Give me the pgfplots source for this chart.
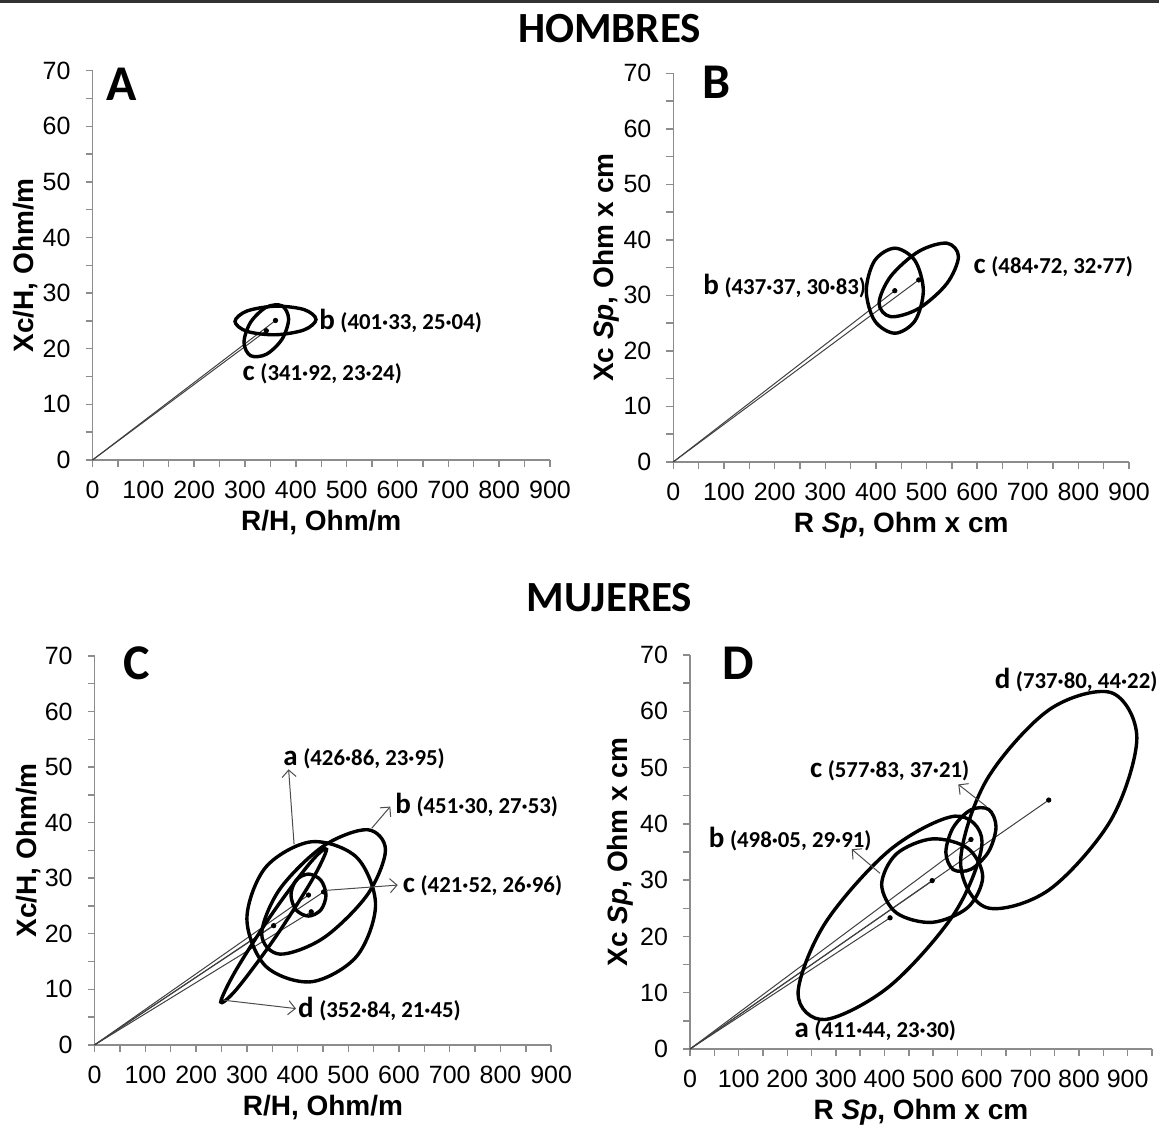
\documentclass[border=0pt]{standalone}
\usepackage{pgfplots}
\pgfplotsset{compat=1.18}
\usepackage{fontspec}
\setmainfont{Liberation Sans}
\newfontfamily\calib{Carlito}
\usetikzlibrary{arrows.meta}

\newcommand{\lab}[2]{{\calib\bfseries\fontsize{14.5}{14.5}\selectfont #1} {\calib\bfseries\fontsize{11.4}{11.4}\selectfont #2}}
\newcommand{\pl}[1]{{\calib\bfseries\fontsize{25}{25}\selectfont #1}}

\pgfplotsset{
  panel/.style={
    scale only axis, anchor=south west, clip=false,
    xmin=0, ymin=0, ymax=70,
    axis x line*=bottom, axis y line*=left,
    axis line style={black!45, line width=0.7pt},
    xtick={0,100,...,900}, ytick={0,10,...,70},
    minor ytick={5,15,...,65},
    tick align=outside,
    major tick length=3.5pt, minor tick length=3.5pt,
    tick style={black!45, line width=0.7pt},
    ticklabel style={font=\fontsize{12.5}{12.5}\selectfont, black},
    /pgf/number format/assume math mode=true,
    xticklabel style={yshift=-3.5pt},
    yticklabel style={xshift=-4pt},
    label style={font=\bfseries\fontsize{14}{14}\selectfont},
    xlabel style={at={(axis description cs:0.5,0)}, anchor=center, yshift=-31.5pt},
  },
  ell/.style={black, line width=1.7pt, smooth cycle, tension=0.55, mark=none},
  cl/.style={black!75, line width=0.5pt, mark=none},
  dot/.style={only marks, mark=*, mark size=1.1pt, black},
  arr/.style={black!70, line width=0.5pt, mark=none, -{Straight Barb[length=3.5pt,width=7pt]}},
}

\begin{document}
\begin{tikzpicture}
\path[use as bounding box] (0,0) rectangle (579.5pt,-564pt);
\draw[black!80, line width=1.2pt] (0,-0.7pt) -- (579.5pt,-0.7pt);
\node[anchor=base, inner sep=0] at (304.75pt,-21.5pt) {\calib\bfseries\fontsize{21.5}{21.5}\selectfont HOMBRES};
\node[anchor=base, inner sep=0] at (304.75pt,-305.5pt) {\calib\bfseries\fontsize{21.5}{21.5}\selectfont MUJERES};

% ---------------- A ----------------
\begin{axis}[panel, at={(46.25pt,-230pt)}, width=228.75pt, height=194.65pt, xmax=900,
  minor xtick={50,150,...,850},
  xlabel={R/H, Ohm/m}, ylabel={Xc/H, Ohm/m},
  ylabel style={at={(axis description cs:-0.1454,0.5)}, anchor=center}]
\addplot[cl] coordinates {(0,0) (360.0,25.09)};
\addplot[cl] coordinates {(0,0) (341.92,23.24)};
\addplot[ell] coordinates {(439.7,25.27) (416.4,27.04) (360.0,27.66) (303.6,26.78) (280.3,24.91) (303.6,23.14) (360.0,22.52) (416.4,23.40)};
\addplot[ell] coordinates {(385.8,25.34) (372.9,27.72) (341.9,27.47) (310.9,24.75) (298.0,21.14) (310.9,18.76) (341.9,19.01) (372.9,21.73)};
\addplot[dot] coordinates {(360.0,25.09) (341.92,23.24)};
\node[anchor=west, inner sep=0] at (axis cs:445.4,25.05) {\lab{b}{(401·33, 25·04)}};
\node[anchor=west, inner sep=0] at (axis cs:294.7,15.46) {\lab{c}{(341·92, 23·24)}};
\node[anchor=base west, inner sep=0] at (axis cs:26.6,64.6) {\pl{A}};
\end{axis}

% ---------------- B ----------------
\begin{axis}[panel, at={(336.7pt,-230.9pt)}, width=227.8pt, height=194.25pt, xmax=900,
  minor xtick={50,150,...,850},
  xlabel={R \textit{Sp}, Ohm x cm}, ylabel={Xc \textit{Sp}, Ohm x cm},
  ylabel style={at={(axis description cs:-0.148,0.5)}, anchor=center}]
\addplot[cl] coordinates {(0,0) (437.37,30.83)};
\addplot[cl] coordinates {(0,0) (484.72,32.77)};
\addplot[ell] coordinates {(493.7,30.83) (477.2,36.25) (437.4,38.49) (397.6,36.25) (381.1,30.83) (397.6,25.41) (437.4,23.17) (477.2,25.41)};
\addplot[ell] coordinates {(563.1,36.99) (540.2,39.39) (484.7,37.91) (429.3,33.42) (406.3,28.55) (429.3,26.15) (484.7,27.63) (540.2,32.12)};
\addplot[dot] coordinates {(437.37,30.83) (484.72,32.77)};
\node[anchor=west, inner sep=0] at (axis cs:58.5,31.71) {\lab{b}{(437·37, 30·83)}};
\node[anchor=west, inner sep=0] at (axis cs:592.4,35.12) {\lab{c}{(484·72, 32·77)}};
\node[anchor=base west, inner sep=0] at (axis cs:56.3,65.5) {\pl{B}};
\end{axis}

% ---------------- C ----------------
\begin{axis}[panel, at={(47.35pt,-522.4pt)}, width=228.25pt, height=194.4pt, xmax=900,
  minor xtick={50,150,...,850},
  xlabel={R/H, Ohm/m}, ylabel={Xc/H, Ohm/m},
  ylabel style={at={(axis description cs:-0.146,0.5)}, anchor=center}]
\addplot[cl] coordinates {(0,0) (426.86,23.95)};
\addplot[cl] coordinates {(0,0) (451.30,27.53)};
\addplot[cl] coordinates {(0,0) (421.52,26.96)};
\addplot[cl] coordinates {(0,0) (352.84,21.45)};
\addplot[ell] coordinates {(553.7,25.21) (516.5,33.75) (426.9,36.55) (337.2,31.97) (300.1,22.69) (337.2,14.15) (426.9,11.35) (516.5,15.93)};
\addplot[ell] coordinates {(573.3,35.09) (537.6,38.73) (451.3,35.81) (365.0,28.04) (329.3,19.97) (365.0,16.33) (451.3,19.25) (537.6,27.02)};
\addplot[ell] coordinates {(456.0,26.96) (445.9,29.63) (421.5,30.74) (397.1,29.63) (387.0,26.96) (397.1,24.29) (421.5,23.18) (445.9,24.29)};
\addplot[ell] coordinates {(457.1,35.19) (426.6,32.96) (352.8,23.99) (279.1,13.53) (248.5,7.71) (279.1,9.94) (352.8,18.91) (426.6,29.37)};
\addplot[dot] coordinates {(426.86,23.95) (451.30,27.53) (421.52,26.96) (352.84,21.45)};
\addplot[arr] coordinates {(393.1,36.08) (382.3,49.6)};
\addplot[arr] coordinates {(546.3,39.0) (582.8,42.9)};
\addplot[arr] coordinates {(455.2,27.8) (597.4,28.76)};
\addplot[arr] coordinates {(254.5,8.03) (396.9,6.52)};
\node[anchor=west, inner sep=0] at (axis cs:371.3,51.55) {\lab{a}{(426·86, 23·95)}};
\node[anchor=west, inner sep=0] at (axis cs:592.1,43.25) {\lab{b}{(451·30, 27·53)}};
\node[anchor=west, inner sep=0] at (axis cs:606.9,28.59) {\lab{c}{(421·52, 26·96)}};
\node[anchor=west, inner sep=0] at (axis cs:400.4,6.52) {\lab{d}{(352·84, 21·45)}};
\node[anchor=base west, inner sep=0] at (axis cs:55.8,65.7) {\pl{C}};
\end{axis}

% ---------------- D ----------------
\begin{axis}[panel, at={(345pt,-524.5pt)}, width=230.95pt, height=197.05pt, xmax=950,
  minor xtick={50,150,...,950},
  xlabel={R \textit{Sp}, Ohm x cm}, ylabel={Xc \textit{Sp}, Ohm x cm},
  ylabel style={at={(axis description cs:-0.150,0.5)}, anchor=center}]
\addplot[cl] coordinates {(0,0) (411.44,23.30)};
\addplot[cl] coordinates {(0,0) (498.05,29.91)};
\addplot[cl] coordinates {(0,0) (577.83,37.21)};
\addplot[cl] coordinates {(0,0) (737.80,44.22)};
\addplot[ell] coordinates {(600.6,36.76) (545.2,41.36) (411.4,35.38) (277.7,22.32) (222.2,9.84) (277.7,5.24) (411.4,11.22) (545.2,24.28)};
\addplot[ell] coordinates {(602.0,30.60) (571.5,35.64) (498.1,37.32) (424.6,34.66) (394.2,29.22) (424.6,24.18) (498.1,22.50) (571.5,25.16)};
\addplot[ell] coordinates {(629.4,39.48) (614.3,42.55) (577.8,42.49) (541.3,39.34) (526.2,34.94) (541.3,31.87) (577.8,31.93) (614.3,35.08)};
\addplot[ell] coordinates {(919.0,55.23) (865.9,63.31) (737.8,60.21) (609.7,47.74) (556.6,33.21) (609.7,25.13) (737.8,28.23) (865.9,40.70)};
\addplot[dot] coordinates {(411.44,23.30) (498.05,29.91) (577.83,37.21) (737.80,44.22)};
\addplot[arr] coordinates {(610.2,43.04) (551.8,47.0)};
\addplot[arr] coordinates {(390.8,31.2) (332.6,35.5)};
\node[anchor=west, inner sep=0] at (axis cs:626,65.61) {\lab{d}{(737·80, 44·22)}};
\node[anchor=west, inner sep=0] at (axis cs:246.2,49.34) {\lab{c}{(577·83, 37·21)}};
\node[anchor=west, inner sep=0] at (axis cs:38.05,37.3) {\lab{b}{(498·05, 29·91)}};
\node[anchor=west, inner sep=0] at (axis cs:214.3,3.2) {\lab{a}{(411·44, 23·30)}};
\node[anchor=base west, inner sep=0] at (axis cs:66.2,65.6) {\pl{D}};
\end{axis}
\end{tikzpicture}
\end{document}
